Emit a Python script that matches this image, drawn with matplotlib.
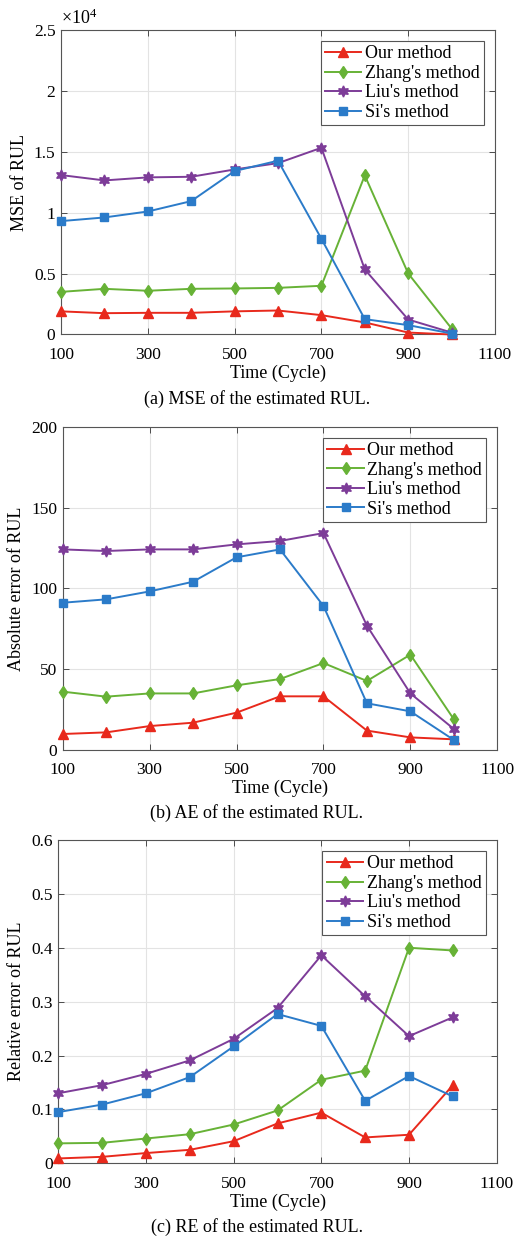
import matplotlib
matplotlib.use("Agg")
import matplotlib.pyplot as plt

plt.rcParams['font.family'] = ['Liberation Serif', 'DejaVu Serif']
plt.rcParams['mathtext.fontset'] = 'custom'
plt.rcParams['mathtext.rm'] = 'Liberation Serif'

cycles = [100, 200, 300, 400, 500, 600, 700, 800, 900, 1000]
methods = ["Our method", "Zhang's method", "Liu's method", "Si's method"]

# MSE of RUL (in units of 1e4)
mse_our = [0.19, 0.175, 0.178, 0.178, 0.19, 0.197, 0.159, 0.099, 0.016, 0.0]
mse_zhang = [0.35, 0.375, 0.359, 0.375, 0.378, 0.383, 0.40, 1.306, 0.501, 0.049]
mse_liu = [1.309, 1.265, 1.29, 1.295, 1.355, 1.407, 1.533, 0.534, 0.123, 0.016]
mse_si = [0.931, 0.961, 1.01, 1.095, 1.342, 1.427, 0.786, 0.126, 0.077, 0.008]

# Absolute error of RUL
ae_our = [9.9, 10.9, 14.8, 16.9, 23.1, 33.2, 33.2, 12.0, 7.8, 6.6]
ae_zhang = [36.1, 33.0, 35.0, 35.0, 40.0, 43.9, 53.8, 42.7, 59.0, 19.0]
ae_liu = [124.1, 123.1, 124.1, 124.1, 127.2, 129.3, 134.2, 76.9, 35.0, 13.0]
ae_si = [91.1, 93.2, 98.1, 104.1, 119.2, 124.1, 89.1, 28.9, 23.9, 6.2]

# Relative error of RUL
re_our = [0.009, 0.012, 0.019, 0.025, 0.041, 0.074, 0.094, 0.048, 0.053, 0.145]
re_zhang = [0.037, 0.038, 0.046, 0.054, 0.072, 0.098, 0.155, 0.172, 0.40, 0.395]
re_liu = [0.13, 0.145, 0.166, 0.191, 0.231, 0.288, 0.386, 0.31, 0.236, 0.271]
re_si = [0.095, 0.109, 0.13, 0.16, 0.217, 0.277, 0.255, 0.116, 0.162, 0.124]

x_ticks = [100, 300, 500, 700, 900, 1100]
y_ticks_a = [0, 0.5, 1, 1.5, 2, 2.5]
y_ticklabels_a = ['0', '0.5', '1', '1.5', '2', '2.5']
y_ticks_b = [0, 50, 100, 150, 200]
y_ticks_c = [0, 0.1, 0.2, 0.3, 0.4, 0.5, 0.6]
y_ticklabels_c = ['0', '0.1', '0.2', '0.3', '0.4', '0.5', '0.6']

colors = ['#E8291C', '#67B236', '#7D3C98', '#2B7BC9']
markers = ['^', 'd', (6, 1, 0), 's']
msizes = [6.5, 6.5, 8, 5.5]

W, H = 514, 1236
fig = plt.figure(figsize=(W / 100, H / 100), dpi=100)

def rect(l, r, t, b):
    return [l / W, 1 - b / H, (r - l) / W, (b - t) / H]

panels = [
    dict(rect=rect(61, 495, 30, 334.5), data=[mse_our, mse_zhang, mse_liu, mse_si],
         ylim=(0, 2.5), yticks=y_ticks_a, yticklabels=y_ticklabels_a,
         ylabel='MSE of RUL', caption='(a) MSE of the estimated RUL.', cap_y=399, ylab_x=20),
    dict(rect=rect(62.7, 497.3, 426.7, 750), data=[ae_our, ae_zhang, ae_liu, ae_si],
         ylim=(0, 200), yticks=y_ticks_b, yticklabels=[str(v) for v in y_ticks_b],
         ylabel='Absolute error of RUL', caption='(b) AE of the estimated RUL.', cap_y=813, ylab_x=17),
    dict(rect=rect(58.3, 496.7, 840, 1163.3), data=[re_our, re_zhang, re_liu, re_si],
         ylim=(0, 0.6), yticks=y_ticks_c, yticklabels=y_ticklabels_c,
         ylabel='Relative error of RUL', caption='(c) RE of the estimated RUL.', cap_y=1227, ylab_x=17),
]

for i, p in enumerate(panels):
    ax = fig.add_axes(p['rect'])
    for series, name, c, m, ms in zip(p['data'], methods, colors, markers, msizes):
        ax.plot(cycles, series, color=c, marker=m, markersize=ms, linewidth=1.4,
                markerfacecolor=c, markeredgecolor=c, label=name, clip_on=False, zorder=3)
    ax.set_xlim(100, 1100)
    ax.set_ylim(*p['ylim'])
    ax.set_xticks(x_ticks)
    ax.set_xticklabels([str(v) for v in x_ticks])
    ax.set_yticks(p['yticks'])
    ax.set_yticklabels(p['yticklabels'])
    ax.tick_params(direction='in', top=True, right=True, labelsize=12.5, length=4,
                   width=0.6, color='#333333', pad=4)
    ax.tick_params(axis='x', pad=9)
    ax.grid(True, color='#e3e3e3', linewidth=0.8, zorder=0)
    ax.set_axisbelow(True)
    for s in ax.spines.values():
        s.set_color('#555555')
        s.set_linewidth(0.8)
    ax.set_xlabel('Time (Cycle)', fontsize=13, labelpad=1)
    ax.set_ylabel(p['ylabel'], fontsize=13)
    ax.yaxis.label.set_rotation_mode('anchor')
    ax.yaxis.label.set_va('center')
    ax.yaxis.set_label_coords((p['ylab_x'] - p['rect'][0] * W) / (p['rect'][2] * W), 0.5)
    leg = ax.legend(loc='upper right', fontsize=13, frameon=True, fancybox=False,
                    edgecolor='#555555', framealpha=1, handlelength=2.0, handletextpad=0.2,
                    borderpad=0.25, labelspacing=0.14, borderaxespad=0.6)
    leg.get_frame().set_linewidth(0.8)
    fig.text(0.5, 1 - p['cap_y'] / H, p['caption'], ha='center', va='center', fontsize=13)
    if i == 0:
        ax.text(0.0, 1.005, r'$\times\mathregular{10^{4}}$', transform=ax.transAxes,
                ha='left', va='bottom', fontsize=13)

fig.savefig('out.png', dpi=100)
